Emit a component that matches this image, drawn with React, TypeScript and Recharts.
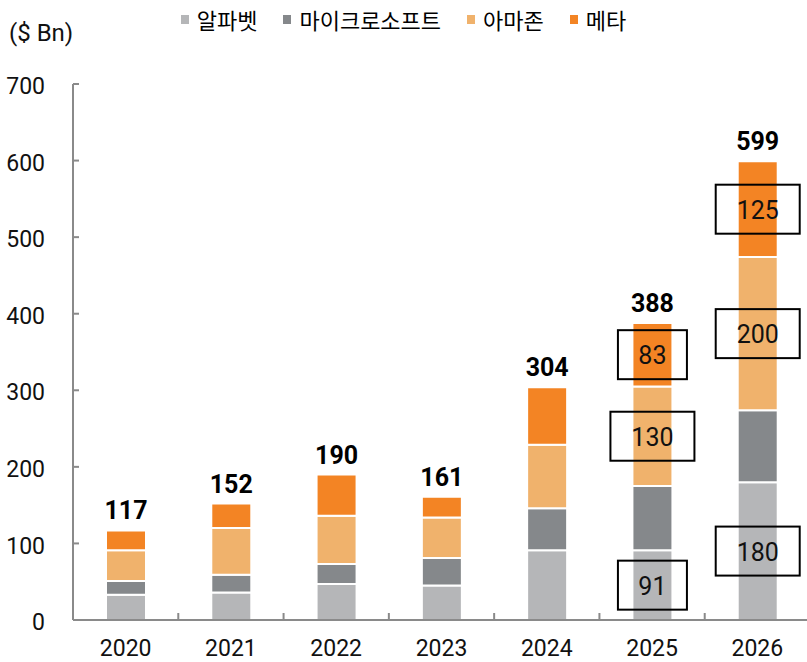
import React from 'react';
import { BarChart, Bar, XAxis, YAxis, LabelList } from 'recharts';

const YEARS = ['2020', '2021', '2022', '2023', '2024', '2025', '2026'];
const ALPHABET = [33, 36, 47, 45, 91, 91, 180];
const MICROSOFT = [18, 23, 26, 36, 55, 84, 94];
const AMAZON = [40, 61, 63, 53, 83, 130, 200];
const META = [26, 32, 54, 27, 75, 83, 125];
const TOTALS = [117, 152, 190, 161, 304, 388, 599];
const Y_TICKS = [0, 100, 200, 300, 400, 500, 600, 700];
const BOXED_YEARS = ['2025', '2026'];

const SERIES = [
  { key: 'alphabet', name: '알파벳', color: '#b5b6b8' },
  { key: 'microsoft', name: '마이크로소프트', color: '#85888b' },
  { key: 'amazon', name: '아마존', color: '#f0b26c' },
  { key: 'meta', name: '메타', color: '#f38424' },
];

const data = YEARS.map((year, i) => ({
  year,
  alphabet: ALPHABET[i],
  microsoft: MICROSOFT[i],
  amazon: AMAZON[i],
  meta: META[i],
}));

const FONT = 'Roboto, "Noto Sans", sans-serif';
const AXIS_COLOR = '#8a8a8a';
const CHART_W = 810;
const Y_AXIS_W = 73;
const X_TICK_MARGIN = 14;
const BAND = (CHART_W - Y_AXIS_W) / YEARS.length;

// year label + small upward tick on the boundary to the right of the category
const YearTick = (props: any) => {
  const { x, y, payload, index } = props;
  const axisY = Number(y) - X_TICK_MARGIN - 6;
  const bx = Number(x) + BAND / 2;
  return (
    <g>
      {index < YEARS.length - 1 && (
        <line x1={bx} x2={bx} y1={axisY} y2={axisY - 7} stroke={AXIS_COLOR} strokeWidth={2} />
      )}
      <text x={x} y={y} dy="0.71em" textAnchor="middle" fontFamily={FONT} fontSize={23} fill="#111">
        {payload.value}
      </text>
    </g>
  );
};

// boxed value label, only for the forecast years
const BoxedLabel = (props: any) => {
  const { x, y, width, height, value, index } = props;
  if (!BOXED_YEARS.includes(YEARS[index])) return null;
  const cx = Number(x) + Number(width) / 2;
  const cy = Number(y) + Number(height) / 2;
  const w = String(value).length > 2 ? 84 : 69;
  const h = 49;
  return (
    <g>
      <rect x={cx - w / 2} y={cy - h / 2} width={w} height={h} fill="none" stroke="#000" strokeWidth={2} />
      <text x={cx} y={cy + 1} textAnchor="middle" dominantBaseline="central" fontFamily={FONT} fontSize={25} fill="#111">
        {value}
      </text>
    </g>
  );
};

const TotalLabel = (props: any) => {
  const { x, y, width, index } = props;
  return (
    <text x={Number(x) + Number(width) / 2} y={Number(y) - 11} textAnchor="middle" fontFamily={FONT} fontSize={25} fontWeight={700} fill="#000">
      {TOTALS[index]}
    </text>
  );
};

export default function App() {
  return (
    <div style={{ position: 'absolute', left: 0, top: 0, width: 807, height: 662, overflow: 'hidden', background: '#fff' }}>
      <div style={{ position: 'absolute', left: 9, top: 19, fontFamily: FONT, fontSize: 24, color: '#111' }}>($ Bn)</div>
      <div
        style={{
          position: 'absolute',
          left: 0,
          top: 3,
          width: 807,
          display: 'flex',
          justifyContent: 'center',
          gap: 26,
          fontFamily: '"Noto Sans CJK KR", sans-serif',
          fontSize: 22,
          color: '#000',
        }}
      >
        {SERIES.map(s => (
          <div key={s.key} style={{ display: 'flex', alignItems: 'center', gap: 8 }}>
            <span style={{ width: 8, height: 9, background: s.color, display: 'inline-block' }} />
            <span>{s.name}</span>
          </div>
        ))}
      </div>
      <BarChart width={CHART_W} height={662} data={data} margin={{ top: 84, right: 0, bottom: 0, left: 0 }}>
        <XAxis
          dataKey="year"
          height={42}
          tickLine={false}
          axisLine={{ stroke: AXIS_COLOR, strokeWidth: 2 }}
          tickMargin={X_TICK_MARGIN}
          tick={<YearTick />}
          interval={0}
        />
        <YAxis
          width={Y_AXIS_W}
          domain={[0, 700]}
          ticks={Y_TICKS}
          interval={0}
          axisLine={{ stroke: AXIS_COLOR, strokeWidth: 2 }}
          tickLine={{ stroke: AXIS_COLOR, strokeWidth: 2 }}
          tickSize={-6}
          tickMargin={34}
          tick={{ fill: '#111', fontSize: 23, fontFamily: FONT, dy: 2 }}
        />
        <Bar dataKey="alphabet" stackId="a" fill={SERIES[0].color} barSize={40} stroke="#fff" strokeWidth={2} isAnimationActive={false}>
          <LabelList dataKey="alphabet" content={BoxedLabel} />
        </Bar>
        <Bar dataKey="microsoft" stackId="a" fill={SERIES[1].color} barSize={40} stroke="#fff" strokeWidth={2} isAnimationActive={false} />
        <Bar dataKey="amazon" stackId="a" fill={SERIES[2].color} barSize={40} stroke="#fff" strokeWidth={2} isAnimationActive={false}>
          <LabelList dataKey="amazon" content={BoxedLabel} />
        </Bar>
        <Bar dataKey="meta" stackId="a" fill={SERIES[3].color} barSize={40} stroke="#fff" strokeWidth={2} isAnimationActive={false}>
          <LabelList dataKey="meta" content={BoxedLabel} />
          <LabelList dataKey="meta" content={TotalLabel} />
        </Bar>
      </BarChart>
    </div>
  );
}
